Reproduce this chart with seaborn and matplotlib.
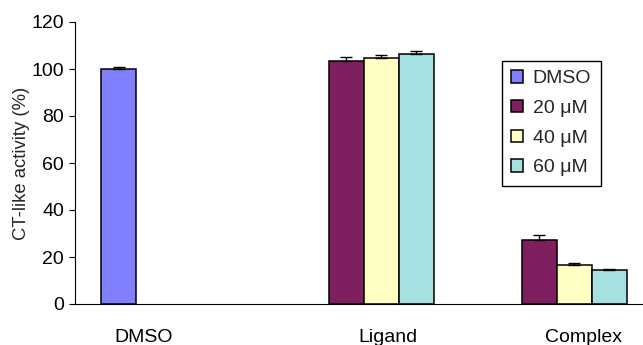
import matplotlib
matplotlib.use('Agg')
import matplotlib.pyplot as plt
import seaborn as sns
import pandas as pd

# data
groups = ['DMSO', 'Ligand', 'Ligand', 'Ligand', 'Complex', 'Complex', 'Complex']
series = ['DMSO', '20 \u03bcM', '40 \u03bcM', '60 \u03bcM', '20 \u03bcM', '40 \u03bcM', '60 \u03bcM']
activity = [100.0, 103.6, 104.7, 106.5, 27.2, 16.7, 14.3]
errors = [0.8, 1.4, 1.4, 1.2, 2.1, 0.8, 0.6]

group_order = ['DMSO', 'Ligand', 'Complex']
series_order = ['DMSO', '20 \u03bcM', '40 \u03bcM', '60 \u03bcM']
colors = {'DMSO': '#8080FF', '20 \u03bcM': '#7F1F5F',
          '40 \u03bcM': '#FFFFC4', '60 \u03bcM': '#A6E0E0'}
yticks = [0, 20, 40, 60, 80, 100, 120]

df = pd.DataFrame({'group': groups, 'series': series,
                   'activity': activity, 'err': errors})

sns.set_style("ticks")
plt.rcParams['font.family'] = ['Liberation Sans', 'DejaVu Sans']

fig = plt.figure(figsize=(6.43, 3.45), dpi=100)
ax = fig.add_axes([74.5 / 643, 41 / 345, 568.5 / 643, 282 / 345])

sns.barplot(data=df, x='group', y='activity', hue='series',
            order=group_order, hue_order=series_order, palette=colors,
            saturation=1, width=0.725, errorbar=None,
            edgecolor='black', linewidth=1.1, ax=ax)

# plus-only error bars on top of each bar
for patch in ax.patches:
    h = patch.get_height()
    match = df[(df['activity'] - h).abs() < 1e-6]
    if match.empty:
        continue
    err = match['err'].iloc[0]
    xc = patch.get_x() + patch.get_width() / 2
    ax.errorbar(xc, h, yerr=[[0], [err]], fmt='none', ecolor='black',
                elinewidth=1.0, capsize=4, capthick=1.0)

ax.set_ylim(0, 120)
ax.set_xlim(-0.5, 2.446)
ax.set_yticks(yticks)
ax.tick_params(axis='y', length=4.5, width=0.8, labelsize=14, pad=3,
               colors='black')

# category labels were placed off-centre in the original
label_offsets = [-0.14, 0.124, 0.14]
ax.set_xticks([i + off for i, off in enumerate(label_offsets)])
ax.set_xticklabels(group_order)
ax.tick_params(axis='x', length=0, labelsize=14, pad=18, colors='black')

ax.set_xlabel('')
ax.set_ylabel('CT-like activity (%)', fontsize=13.3, labelpad=1)

for side in ['top', 'right']:
    ax.spines[side].set_visible(False)
for side in ['left', 'bottom']:
    ax.spines[side].set_color('black')
    ax.spines[side].set_linewidth(0.8)

handles, labels = ax.get_legend_handles_labels()
leg = ax.legend(handles, labels, loc='upper left',
                bbox_to_anchor=(502 / 643, 1 - 61 / 345),
                bbox_transform=fig.transFigure,
                fontsize=14, frameon=True, fancybox=False,
                edgecolor='black', framealpha=1,
                handlelength=0.6, handleheight=0.6, handletextpad=0.5,
                labelspacing=0.65, borderpad=0.48, borderaxespad=0)
leg.get_frame().set_linewidth(1.0)

plt.savefig('out.png', dpi=100)
plt.close()
